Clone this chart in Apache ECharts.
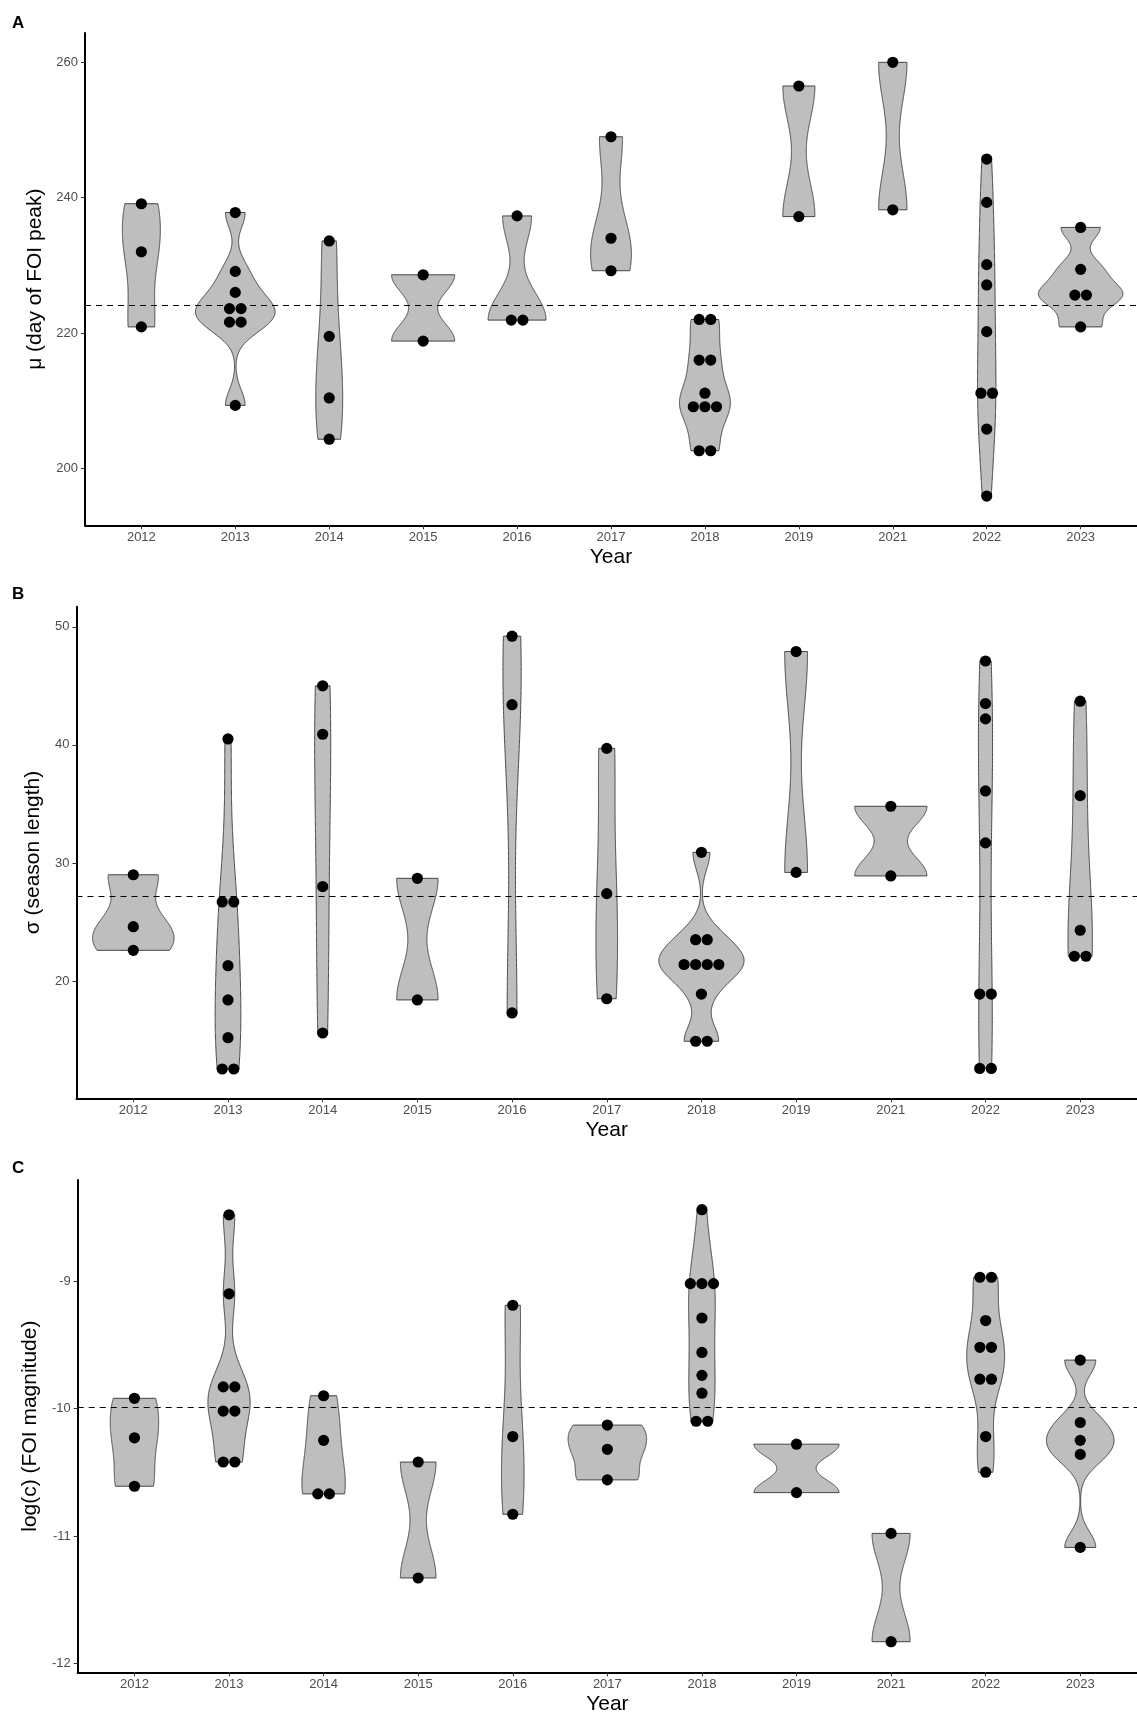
<!DOCTYPE html>
<html>
<head>
<meta charset="utf-8">
<script src="https://cdn.jsdelivr.net/npm/echarts@6/dist/echarts.min.js"></script>
<style>
html,body{margin:0;padding:0;background:#fff;}
#chart{width:1137px;height:1716px;}
</style>
</head>
<body>
<div id="chart"></div>
<script>
// ---------------- data ----------------
const years = ['2012','2013','2014','2015','2016','2017','2018','2019','2021','2022','2023'];

// Panel A: mu (day of FOI peak), one list per year
const muPeak = [
  [239.1, 232.0, 220.9],
  [237.8, 229.1, 226.0, 223.6, 223.6, 221.6, 221.6, 209.3],
  [233.6, 219.5, 210.4, 204.3],
  [228.6, 218.8],
  [237.3, 221.9, 221.9],
  [249.0, 234.0, 229.2],
  [222.0, 222.0, 216.0, 216.0, 211.1, 209.1, 209.1, 209.1, 202.6, 202.6],
  [256.5, 237.2],
  [260.0, 238.2],
  [245.7, 239.3, 230.1, 227.1, 220.2, 211.1, 211.1, 205.8, 195.9],
  [235.6, 229.4, 225.6, 225.6, 220.9]
];
const muRef = 224.1;
const muTicks = [200, 220, 240, 260];

// Panel B: sigma (season length)
const sigmaLength = [
  [29.0, 24.6, 22.6],
  [40.5, 26.7, 26.7, 21.3, 18.4, 15.2, 12.55, 12.55],
  [45.0, 40.9, 28.0, 15.6],
  [28.7, 18.4],
  [49.2, 43.4, 17.3],
  [39.7, 27.4, 18.5],
  [30.9, 23.5, 23.5, 21.4, 21.4, 21.4, 21.4, 18.9, 14.9, 14.9],
  [47.9, 29.2],
  [34.8, 28.9],
  [47.1, 43.5, 42.2, 36.1, 31.7, 18.9, 18.9, 12.6, 12.6],
  [43.7, 35.7, 24.3, 22.1, 22.1]
];
const sigmaRef = 27.2;
const sigmaTicks = [20, 30, 40, 50];

// Panel C: log(c) (FOI magnitude)
const logC = [
  [-9.92, -10.23, -10.61],
  [-8.48, -9.10, -9.83, -9.83, -10.02, -10.02, -10.42, -10.42],
  [-9.90, -10.25, -10.67, -10.67],
  [-10.42, -11.33],
  [-9.19, -10.22, -10.83],
  [-10.13, -10.32, -10.56],
  [-8.44, -9.02, -9.02, -9.02, -9.29, -9.56, -9.74, -9.88, -10.10, -10.10],
  [-10.28, -10.66],
  [-10.98, -11.83],
  [-8.97, -8.97, -9.31, -9.52, -9.52, -9.77, -9.77, -10.22, -10.50],
  [-9.62, -10.11, -10.25, -10.36, -11.09]
];
const logCRef = -9.99;
const logCTicks = [-12, -11, -10, -9];

// ---------------- helpers ----------------
const FONT = "'Liberation Sans', Arial, sans-serif";

function bwNrd0(x) {
  const n = x.length;
  const s = x.slice().sort((a, b) => a - b);
  const mean = x.reduce((a, b) => a + b, 0) / n;
  const sd = Math.sqrt(x.reduce((a, b) => a + (b - mean) * (b - mean), 0) / (n - 1));
  const q = p => { const h = (n - 1) * p; const lo = Math.floor(h); const hi = Math.min(lo + 1, n - 1); return s[lo] + (h - lo) * (s[hi] - s[lo]); };
  const iqr = q(0.75) - q(0.25);
  let lo = Math.min(sd, iqr / 1.34);
  if (!(lo > 0)) lo = sd || Math.abs(s[0]) || 1;
  return 0.9 * lo * Math.pow(n, -0.2);
}

function kde(x, npts) {
  const bw = bwNrd0(x);
  const mn = Math.min(...x), mx = Math.max(...x);
  const ys = [], ds = [];
  for (let i = 0; i < npts; i++) {
    const y = mn + (mx - mn) * i / (npts - 1);
    let d = 0;
    for (const v of x) { const z = (y - v) / bw; d += Math.exp(-0.5 * z * z); }
    d /= x.length * bw * Math.sqrt(2 * Math.PI);
    ys.push(y); ds.push(d);
  }
  return { ys, ds };
}

function violinSeries(groups, idx) {
  const dens = groups.map(g => kde(g, 300));
  let fmax = 0;
  dens.forEach(d => d.ds.forEach(v => { if (v > fmax) fmax = v; }));
  return {
    type: 'custom',
    xAxisIndex: idx, yAxisIndex: idx,
    z: 2,
    silent: true,
    data: groups.map((g, i) => [i + 1, Math.min(...g), Math.max(...g)]),
    renderItem: function (params, api) {
      const gi = params.dataIndex;
      const k = dens[gi];
      const c = gi + 1;
      const right = [], left = [];
      for (let i = 0; i < k.ys.length; i++) {
        const hw = 0.45 * k.ds[i] / fmax;
        right.push(api.coord([c + hw, k.ys[i]]));
        left.push(api.coord([c - hw, k.ys[i]]));
      }
      const pts = right.concat(left.reverse());
      return {
        type: 'polygon',
        shape: { points: pts },
        style: { fill: '#bebebe', stroke: '#333333', lineWidth: 0.9 }
      };
    }
  };
}

function dotSeries(groups, idx, ref) {
  const data = [];
  groups.forEach((g, i) => {
    const counts = {};
    g.forEach(v => { counts[v] = (counts[v] || 0) + 1; });
    const seen = {};
    g.forEach(v => {
      const n = counts[v];
      const k = seen[v] || 0;
      seen[v] = k + 1;
      data.push([i + 1, v, k - (n - 1) / 2]);
    });
  });
  return {
    type: 'custom',
    xAxisIndex: idx, yAxisIndex: idx,
    z: 3,
    silent: true,
    data: data,
    renderItem: function (params, api) {
      const p = api.coord([api.value(0), api.value(1)]);
      return {
        type: 'circle',
        shape: { cx: p[0] + api.value(2) * 11.6, cy: p[1], r: 5.6 },
        style: { fill: '#000000' }
      };
    },
    markLine: {
      silent: true,
      symbol: ['none', 'none'],
      label: { show: false },
      lineStyle: { color: '#000000', width: 1, type: [6, 5] },
      data: [{ yAxis: ref }],
      z: 5
    }
  };
}

const xTickVals = years.map((y, i) => i + 1);

function xAxisFor(idx) {
  return {
    type: 'value', gridIndex: idx, min: 0.4, max: 11.6,
    splitLine: { show: false },
    axisLine: { show: true, onZero: false, lineStyle: { color: '#000', width: 2 } },
    axisTick: { show: true, customValues: xTickVals, length: 4, lineStyle: { color: '#333', width: 1 } },
    axisLabel: { show: true, customValues: xTickVals, formatter: v => years[Math.round(v) - 1], color: '#4d4d4d', fontSize: 13, fontFamily: FONT, margin: 6 },
    name: 'Year', nameLocation: 'middle', nameGap: 21,
    nameTextStyle: { color: '#000', fontSize: 21, fontFamily: FONT }
  };
}

function yAxisFor(idx, min, max, ticks, name, gap) {
  return {
    type: 'value', gridIndex: idx, min: min, max: max,
    splitLine: { show: false },
    axisLine: { show: true, onZero: false, lineStyle: { color: '#000', width: 2 } },
    axisTick: { show: true, customValues: ticks, length: 4, lineStyle: { color: '#333', width: 1 } },
    axisLabel: { show: true, customValues: ticks, color: '#4d4d4d', fontSize: 13, fontFamily: FONT, margin: 7 },
    name: name, nameLocation: 'middle', nameRotate: 90, nameGap: gap,
    nameTextStyle: { color: '#000', fontSize: 21, fontFamily: FONT }
  };
}

const chart = echarts.init(document.getElementById('chart'), null, { renderer: 'canvas' });
chart.setOption({
  animation: false,
  backgroundColor: '#ffffff',
  textStyle: { fontFamily: FONT },
  grid: [
    { left: 85, top: 33, width: 1057.7, height: 492.3 },
    { left: 76.5, top: 606.7, width: 1066.5, height: 491.6 },
    { left: 77.7, top: 1180, width: 1065.3, height: 492.3 }
  ],
  xAxis: [xAxisFor(0), xAxisFor(1), xAxisFor(2)],
  yAxis: [
    yAxisFor(0, 191.58, 264.33, muTicks, 'μ (day of FOI peak)', 37),
    yAxisFor(1, 10.07, 51.7, sigmaTicks, 'σ (season length)', 29),
    yAxisFor(2, -12.07, -8.207, logCTicks, 'log(c) (FOI magnitude)', 30)
  ],
  graphic: [
    { type: 'text', left: 12, top: 15, style: { text: 'A', font: 'bold 17px ' + FONT, fill: '#000' } },
    { type: 'text', left: 12, top: 586, style: { text: 'B', font: 'bold 17px ' + FONT, fill: '#000' } },
    { type: 'text', left: 12, top: 1160, style: { text: 'C', font: 'bold 17px ' + FONT, fill: '#000' } }
  ],
  series: [
    violinSeries(muPeak, 0), dotSeries(muPeak, 0, muRef),
    violinSeries(sigmaLength, 1), dotSeries(sigmaLength, 1, sigmaRef),
    violinSeries(logC, 2), dotSeries(logC, 2, logCRef)
  ]
});
</script>
</body>
</html>
